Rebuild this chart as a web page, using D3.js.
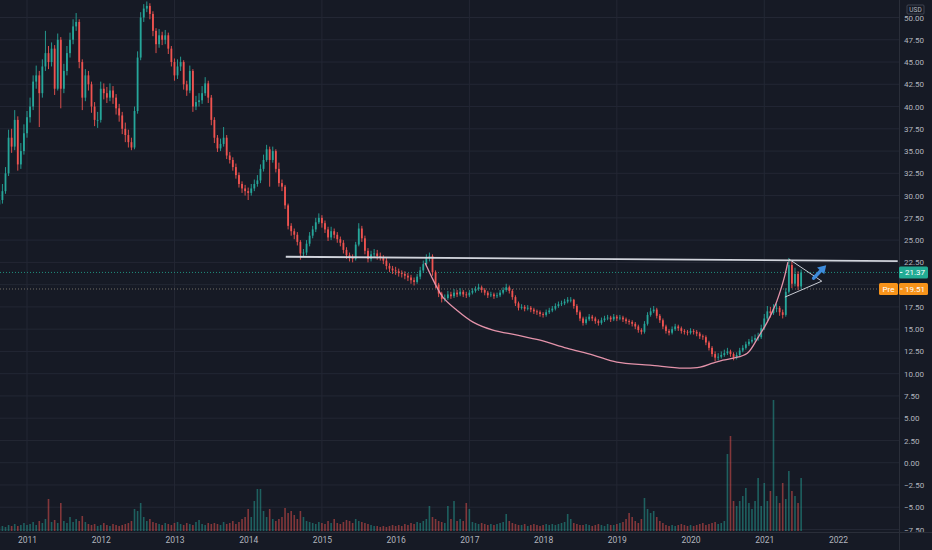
<!DOCTYPE html>
<html>
<head>
<meta charset="utf-8">
<script src="https://cdn.jsdelivr.net/npm/d3@7"></script>
<style>
  body { margin: 0; background: #161a25; }
  svg { display: block; }
</style>
</head>
<body>
<div id="chart"></div>
<script>
// semi-monthly candles, first one mid-Aug 2010 (decimal years)
const startYear = 2010.625;
const stepYear = 1 / 24;
const firstOpen = 29.0;

const closes = [
  29.5,30.5,32.5,36.5,35.5,38.5,33.5,35,37,38.8,
  40,42.8,43.5,41.5,44.5,46,45,46.5,42,47.5,
  42,44,46,47.5,49,49.5,45,41,43.5,42.5,
  40,38.5,38.5,42,41.5,41,41.8,41,39.8,39,
  37.5,36.8,36,35.4,39.5,45.5,50,51,51.3,50.4,
  48.5,47,48,47.5,48,46.5,45,43.5,44.5,45,
  42.5,41.8,44,40,40.5,40.7,41.5,42.6,41,38.5,
  36.5,35.3,35.8,36.5,34.5,34,33.2,32.3,31.3,30.8,
  30.5,30.3,30.8,31.3,31.7,33,34,35.2,34,35,
  33,31.4,31,28.9,26.6,26,25.6,24.8,23.5,23.6,
  24.6,25.5,26.2,27,27.5,26.9,26.2,25.3,26,25.6,
  25.1,24.7,23.9,23.3,23,22.9,24.5,26.3,25.2,23.8,
  22.9,23.4,23.5,23.2,23.1,22.7,22.1,21.8,21.6,21.5,
  21.3,21.2,21,20.8,20.5,20.3,20.9,21.6,22.3,23,
  23.2,21.4,20,19,18.4,18.5,18.9,18.7,19.1,18.9,
  19.2,18.9,18.8,19.1,19.3,19.5,19.7,19.4,19.1,18.8,
  18.9,18.7,18.8,19.1,19.4,19.7,19.3,18.6,17.9,17.4,
  17.5,17.3,17.4,17.2,17,16.9,16.7,16.6,16.9,17.1,
  17.3,17.6,17.8,17.9,18.1,18.3,18.3,17.6,16.9,16.2,
  15.7,16.1,16.4,16.2,15.9,15.7,16,16.2,16.3,16.1,
  16.4,16.2,16.3,16.1,15.9,15.8,15.6,15.3,14.9,14.7,
  15.6,16.6,17,17.2,16.5,16,15.3,14.8,14.6,15,
  15.3,15.1,14.8,14.7,14.6,14.8,14.7,14.5,14.2,14.1,
  13.5,12.9,12.2,11.8,11.9,12.1,12.3,12.5,12.2,11.8,
  12.1,12.6,12.9,13.3,13.6,13.8,14,14.1,15.1,16.2,
  17,16.8,17.3,17.4,16.9,16.6,19.2,22.2,20.1,21.2,
  19.8,21.37
];

const highs = [
  30.2,31.3,33.2,37.4,37.5,39.6,38.9,35.9,38,39.5,
  41,43.5,44.6,44,45.3,48.5,46.8,47.2,46.9,48.2,
  47.8,44.8,46.8,48.3,49.8,50.5,49.8,45.3,44.2,44,
  42.8,40.5,39.4,42.8,42.6,42.2,42.6,42.3,41.4,40.3,
  39.4,38.2,37.4,36.5,40,46.2,50.6,51.5,51.8,51.6,
  50.7,48.8,48.7,48.4,48.6,48.3,46.8,45.4,45.3,45.6,
  45.2,42.9,44.6,44.2,41.2,41.5,42.3,43.3,42.9,41.3,
  38.8,36.8,36.4,37.7,36.8,34.9,34.3,33.6,32.6,31.6,
  31.2,30.9,31.3,31.8,32.3,33.5,34.6,35.7,35.5,35.5,
  35.2,33.7,31.8,31.2,29.1,26.9,26.3,25.9,25,24,
  25,25.9,26.6,27.5,28,27.8,27.2,26.5,26.5,26.3,
  25.9,25.4,25,24.2,23.6,23.4,24.8,26.9,26.6,25.5,
  24.1,23.8,24,23.9,23.6,23.3,23,22.4,22.1,22,
  21.8,21.6,21.5,21.3,21.1,20.8,21.2,22,22.7,23.4,
  23.6,23.4,21.6,20.2,19.2,18.9,19.3,19.2,19.5,19.4,
  19.6,19.4,19.2,19.4,19.6,19.8,20.1,19.9,19.6,19.3,
  19.2,19.1,19.1,19.4,19.7,20.1,19.9,19.5,18.8,18.1,
  17.8,17.7,17.7,17.6,17.4,17.2,17.1,16.9,17.2,17.4,
  17.6,17.9,18.1,18.2,18.4,18.6,18.6,18.4,17.8,17.1,
  16.4,16.4,16.7,16.6,16.4,16.1,16.3,16.5,16.6,16.5,
  16.7,16.6,16.6,16.5,16.3,16.1,16,15.8,15.5,15.1,
  15.9,16.9,17.4,17.6,17.4,16.7,16.2,15.5,15,15.3,
  15.6,15.5,15.3,15,14.9,15.1,15,14.9,14.7,14.4,
  14.3,13.7,13.1,12.5,12.3,12.5,12.7,12.9,12.7,12.4,
  12.4,12.9,13.2,13.6,13.9,14.2,14.4,14.6,15.5,16.7,
  17.6,17.5,17.8,17.9,17.6,17.2,19.6,23,22.6,21.9,
  21.5,21.7
];

const lows = [
  28.6,29.1,30.2,32.2,34.8,35.1,32.8,33,34.6,36.5,
  38.2,39.6,42,37.7,41,44,44.2,44.5,41.3,41.8,
  39.8,41.5,43.5,45.5,47,48.5,44.3,39.6,40.6,41.8,
  39.3,37.8,37.6,38.2,40.8,40.4,40.6,40.3,39.1,38.3,
  36.9,36,35.4,35.1,35.2,39.2,45.2,49.5,50.6,49.8,
  47.9,46,46.6,46.9,47,45.9,44.5,42.9,43.1,44,
  41.9,41.2,41.5,39.4,39.6,40,40.3,41.2,40.4,37.9,
  35.9,34.9,35,35.5,34.1,33.6,32.8,31.9,30.9,30.3,
  30,29.5,30,30.5,31,31.4,32.7,33.8,31,33.7,
  32.6,31,30.5,28.5,26.2,25.5,25.1,24.4,22.8,23.1,
  23.3,24.3,25.2,25.9,26.8,26.4,25.8,24.9,25,25.2,
  24.7,24.3,23.5,22.9,22.6,22.5,22.7,24.3,24.8,23.4,
  22.5,22.6,23.1,22.8,22.7,22.3,21.7,21.4,21.2,21.1,
  20.9,20.8,20.6,20.4,20.1,19.9,20.1,20.6,21.3,22,
  22.6,21,19.6,18.6,18,18.1,18.3,18.4,18.5,18.6,
  18.7,18.6,18.5,18.6,18.9,19.1,19.3,19.1,18.8,18.5,
  18.6,18.4,18.5,18.6,18.9,19.2,19,18.3,17.6,17.1,
  17.2,17,17.1,16.9,16.7,16.6,16.4,16.3,16.4,16.7,
  16.9,17.1,17.4,17.6,17.7,17.9,18,17.3,16.6,15.9,
  15.4,15.5,15.9,15.9,15.6,15.4,15.5,15.8,16,15.8,
  15.9,15.9,16,15.8,15.6,15.5,15.3,15,14.6,14.4,
  14.5,15.4,16.4,16.8,16.2,15.7,15,14.5,14.3,14.4,
  14.8,14.8,14.5,14.4,14.3,14.4,14.4,14.2,13.9,13.8,
  13.2,12.6,11.9,11.4,11.5,11.7,11.9,12.1,11.9,11.5,
  11.6,11.9,12.4,12.7,13.1,13.4,13.6,13.7,13.9,14.9,
  15.9,16.3,16.6,16.9,16.5,16.2,16.4,19,19.6,19.8,
  19.4,19.5
];

// volume, 100k shares
const volumes = [
  4,5,4,6,5,7,5,6,8,6,
  7,9,6,10,8,12,32,9,11,8,
  28,10,8,14,9,12,10,15,9,7,
  6,7,5,6,8,6,5,7,6,5,
  6,7,8,10,22,20,28,14,10,12,
  9,8,7,6,8,7,6,8,9,7,
  6,8,7,6,9,11,7,6,8,7,
  8,7,6,9,7,8,10,7,9,12,
  14,22,14,30,42,42,20,14,22,12,
  10,12,14,23,18,20,16,12,20,14,
  10,9,8,7,9,8,7,10,8,12,
  8,7,9,11,10,8,12,10,9,8,
  7,6,5,5,4,5,4,5,6,5,
  6,5,7,6,8,7,9,8,10,12,
  25,14,12,10,9,8,25,12,30,10,
  12,10,28,22,9,8,7,8,7,6,
  7,6,7,8,9,17,10,8,7,6,
  6,7,5,6,7,6,5,6,7,6,
  7,6,7,8,9,17,12,8,7,6,
  6,7,6,5,6,7,6,5,7,6,
  6,7,8,9,12,18,14,10,8,12,
  33,22,18,20,14,10,8,6,5,6,
  5,6,7,6,5,6,5,6,7,8,
  6,7,8,9,7,8,10,77,95,30,
  25,30,35,43,28,22,30,53,25,48,
  30,40,131,35,28,48,32,60,40,35,
  28,53
];

const priceTicks = [-7.5,-5,-2.5,0,2.5,5,7.5,10,12.5,15,17.5,20,22.5,25,27.5,30,32.5,35,37.5,40,42.5,45,47.5,50];
const yearTicks = [2011,2012,2013,2014,2015,2016,2017,2018,2019,2020,2021,2022];
const gridYears = [2011,2013,2015,2017,2019,2021];

const lastPrice = 21.37;
const prePrice = 19.51;

// drawings: [decimal year, price]
const resistance = [[2014.51, 23.13], [2022.81, 22.65]];
const cupCurve = [
  [2016.40,22.42],[2016.51,20.51],[2016.64,18.60],[2016.83,17.13],[2017.05,15.79],
  [2017.32,14.89],[2017.65,14.33],[2017.96,13.76],[2018.32,12.87],[2018.68,12.08],
  [2019.00,11.29],[2019.45,10.96],[2019.90,10.62],[2020.13,10.73],[2020.30,11.18],
  [2020.44,11.52],[2020.58,11.74],[2020.77,12.30],[2020.91,13.99],[2021.04,15.79],
  [2021.15,17.70],[2021.23,19.61],[2021.28,21.07],[2021.32,22.53]
];
const triangleTop = [[2021.335, 22.86], [2021.78, 20.39]];
const triangleBottom = [[2021.28, 18.60], [2021.78, 20.39]];
const arrowPts = [[2021.67, 20.73], [2021.84, 22.19]];

const width = 932, height = 550;
const plotRight = 899, plotBottom = 532;

const candles = closes.map((c, i) => ({
  t: startYear + i * stepYear,
  o: i ? closes[i - 1] : firstOpen,
  c: c,
  h: highs[i],
  l: lows[i],
  v: volumes[i]
}));

const x = d3.scaleLinear().domain([2011, 2022]).range([27, 838]);
const y = d3.scaleLinear().domain([-7.5, 50]).range([529.5, 17.5]);
const vy = d3.scaleLinear().domain([0, d3.max(volumes)]).range([531, 400]);

const up = "#26a69a", down = "#ef5350";

const svg = d3.select("#chart").append("svg")
  .attr("width", width)
  .attr("height", height)
  .style("font-family", "Roboto, 'Liberation Sans', sans-serif");

svg.append("rect").attr("width", width).attr("height", height).attr("fill", "#161a25");

const defs = svg.append("defs");
defs.append("clipPath").attr("id", "plot-clip")
  .append("rect").attr("width", plotRight).attr("height", plotBottom);
// used inside the translated axis group, so local coords
defs.append("clipPath").attr("id", "axis-clip")
  .append("rect").attr("x", 0).attr("width", width - plotRight).attr("height", plotBottom);

const plot = svg.append("g").attr("clip-path", "url(#plot-clip)");

// grid
plot.selectAll(".hgrid")
  .data(priceTicks)
  .enter().append("line")
  .attr("x1", 0).attr("x2", plotRight)
  .attr("y1", d => y(d)).attr("y2", d => y(d))
  .attr("stroke", "#232734").attr("stroke-width", 1);

plot.selectAll(".vgrid")
  .data(gridYears)
  .enter().append("line")
  .attr("x1", d => x(d)).attr("x2", d => x(d))
  .attr("y1", 0).attr("y2", plotBottom)
  .attr("stroke", "#232734").attr("stroke-width", 1);

// volume
plot.selectAll(".vol")
  .data(candles)
  .enter().append("rect")
  .attr("x", d => x(d.t) - 0.8)
  .attr("width", 1.6)
  .attr("y", d => vy(d.v))
  .attr("height", d => vy(0) - vy(d.v))
  .attr("fill", d => d.c >= d.o ? up : down)
  .attr("opacity", 0.5);

// last / pre-market price lines
plot.append("line")
  .attr("x1", 0).attr("x2", plotRight)
  .attr("y1", y(lastPrice)).attr("y2", y(lastPrice))
  .attr("stroke", "#22ab94").attr("stroke-dasharray", "1,2").attr("opacity", 0.8);
plot.append("line")
  .attr("x1", 0).attr("x2", plotRight)
  .attr("y1", y(prePrice)).attr("y2", y(prePrice))
  .attr("stroke", "#b0a48f").attr("stroke-dasharray", "1,2").attr("opacity", 0.6);

// candles
const cg = plot.selectAll(".candle")
  .data(candles)
  .enter().append("g");

cg.append("line")
  .attr("x1", d => x(d.t)).attr("x2", d => x(d.t))
  .attr("y1", d => y(Math.max(d.h, d.o, d.c)))
  .attr("y2", d => y(Math.min(d.l, d.o, d.c)))
  .attr("stroke", d => d.c >= d.o ? up : down)
  .attr("stroke-width", 0.9);

cg.append("rect")
  .attr("x", d => x(d.t) - 0.9)
  .attr("width", 1.8)
  .attr("y", d => y(Math.max(d.o, d.c)))
  .attr("height", d => Math.max(0.8, Math.abs(y(d.o) - y(d.c))))
  .attr("fill", d => d.c >= d.o ? up : down);

// drawings
const line = d3.line().x(d => x(d[0])).y(d => y(d[1]));

plot.append("path")
  .attr("d", line(resistance))
  .attr("fill", "none").attr("stroke", "#d1d4dc").attr("stroke-width", 1.8);

plot.append("path")
  .attr("d", line.curve(d3.curveCatmullRom)(cupCurve))
  .attr("fill", "none").attr("stroke", "#e493aa").attr("stroke-width", 1.3);
line.curve(d3.curveLinear);

[triangleTop, triangleBottom].forEach(seg => {
  plot.append("path")
    .attr("d", line(seg))
    .attr("fill", "none").attr("stroke", "#c9ccd4").attr("stroke-width", 1);
});

// arrow
const ax0 = x(arrowPts[0][0]), ay0 = y(arrowPts[0][1]);
const ax1 = x(arrowPts[1][0]), ay1 = y(arrowPts[1][1]);
const ang = Math.atan2(ay1 - ay0, ax1 - ax0);
const headLen = 8, headW = 5;
const bx = ax1 - headLen * Math.cos(ang), by = ay1 - headLen * Math.sin(ang);
plot.append("line")
  .attr("x1", ax0).attr("y1", ay0).attr("x2", bx).attr("y2", by)
  .attr("stroke", "#3d8bdb").attr("stroke-width", 3.5).attr("stroke-linecap", "round");
plot.append("path")
  .attr("d", d3.line()([
    [ax1, ay1],
    [bx + headW * Math.sin(ang), by - headW * Math.cos(ang)],
    [bx - headW * Math.sin(ang), by + headW * Math.cos(ang)]
  ]) + "Z")
  .attr("fill", "#3d8bdb");

// axes frame
svg.append("line")
  .attr("x1", plotRight + 0.5).attr("x2", plotRight + 0.5)
  .attr("y1", 0).attr("y2", height)
  .attr("stroke", "#2a2e39");
svg.append("line")
  .attr("x1", 0).attr("x2", width)
  .attr("y1", plotBottom + 0.5).attr("y2", plotBottom + 0.5)
  .attr("stroke", "#2a2e39");

// price axis
const yAxis = svg.append("g")
  .attr("transform", `translate(${plotRight},0)`)
  .attr("clip-path", "url(#axis-clip)")
  .call(d3.axisRight(y).tickValues(priceTicks).tickFormat(d3.format(".2f")).tickSize(0).tickPadding(5));
yAxis.select(".domain").remove();
yAxis.selectAll("text")
  .attr("fill", "#b2b5be")
  .style("font-size", "8px")
  .style("font-family", "Roboto, 'Liberation Sans', sans-serif");

// time axis
const xAxis = svg.append("g")
  .attr("transform", `translate(0,${plotBottom})`)
  .call(d3.axisBottom(x).tickValues(yearTicks).tickFormat(d3.format("d")).tickSize(0).tickPadding(5));
xAxis.select(".domain").remove();
xAxis.selectAll("text")
  .attr("fill", "#b2b5be")
  .style("font-size", "8.5px")
  .style("font-family", "Roboto, 'Liberation Sans', sans-serif");

// price labels
function priceTag(value, color, prefix) {
  const yy = y(value);
  const g = svg.append("g");
  g.append("rect")
    .attr("x", plotRight).attr("y", yy - 6)
    .attr("width", 29).attr("height", 12)
    .attr("rx", 1.5)
    .attr("fill", color);
  g.append("line")
    .attr("x1", plotRight + 1).attr("x2", plotRight + 3.5)
    .attr("y1", yy).attr("y2", yy)
    .attr("stroke", "#ffffff");
  g.append("text")
    .attr("x", plotRight + 16).attr("y", yy)
    .attr("dy", "0.35em").attr("text-anchor", "middle")
    .attr("fill", "#ffffff").style("font-size", "8px")
    .text(value.toFixed(2));
  if (prefix) {
    g.append("rect")
      .attr("x", plotRight - 20).attr("y", yy - 6)
      .attr("width", 19).attr("height", 12)
      .attr("rx", 1.5)
      .attr("fill", color);
    g.append("text")
      .attr("x", plotRight - 10.5).attr("y", yy)
      .attr("dy", "0.35em").attr("text-anchor", "middle")
      .attr("fill", "#ffffff").style("font-size", "8px")
      .text(prefix);
  }
}
priceTag(lastPrice, "#22ab94", null);
priceTag(prePrice, "#f7931a", "Pre");

// currency box
svg.append("rect")
  .attr("x", 907).attr("y", 5).attr("width", 17).attr("height", 9)
  .attr("fill", "#161a25").attr("stroke", "#4a4e5a").attr("stroke-width", 0.8).attr("rx", 1);
svg.append("text")
  .attr("x", 915.5).attr("y", 9.7)
  .attr("dy", "0.35em").attr("text-anchor", "middle")
  .attr("fill", "#b2b5be").style("font-size", "6.5px")
  .text("USD");
</script>
</body>
</html>
